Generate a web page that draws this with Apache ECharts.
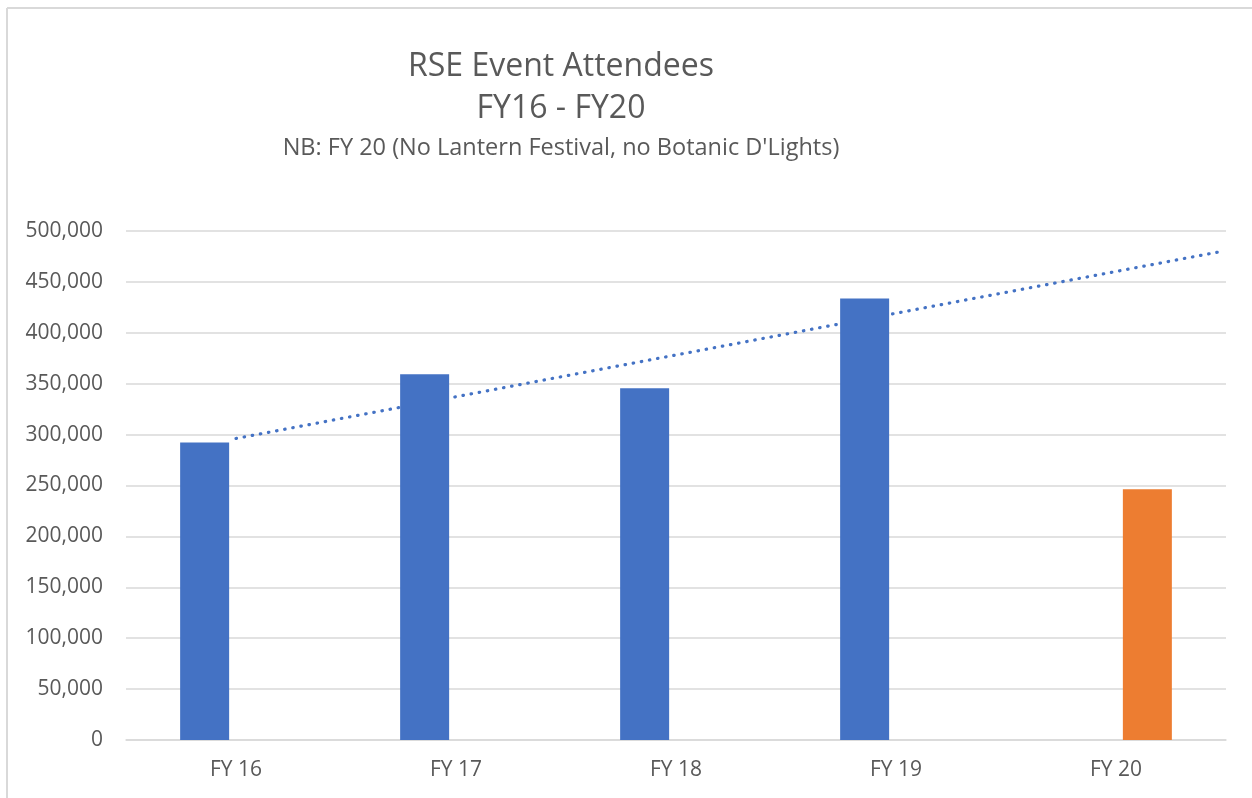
<!DOCTYPE html>
<html>
<head>
<meta charset="utf-8">
<script src="https://cdn.jsdelivr.net/npm/echarts@6/dist/echarts.min.js"></script>
<style>
    html, body { margin: 0; padding: 0; background: #fff; }
    #chart { width: 1252px; height: 798px; }
</style>
</head>
<body>
<div id="chart"></div>
<script>
    // Chart data
    const categories = ['FY 16', 'FY 17', 'FY 18', 'FY 19', 'FY 20'];
    const attendees = [292300, 359300, 345600, 433600, null];
    const attendeesFy20 = [null, null, null, null, 246400];

    const font = '"Open Sans", sans-serif';
    const textColor = '#595959';
    const gridColor = '#d9d9d9';

    // Linear trendline on the blue series (x = 1..n), extended to the plot edge
    const linearTrend = (values) => {
        const pts = values.map((v, i) => [i + 1, v]).filter(p => p[1] != null);
        const n = pts.length;
        const mx = pts.reduce((s, p) => s + p[0], 0) / n;
        const my = pts.reduce((s, p) => s + p[1], 0) / n;
        let num = 0, den = 0;
        pts.forEach(p => {
            num += (p[0] - mx) * (p[1] - my);
            den += (p[0] - mx) * (p[0] - mx);
        });
        const slope = num / den;
        return (x) => my + slope * (x - mx);
    };
    const trend = linearTrend(attendees);
    const trendData = [[1, trend(1)], [categories.length + 0.47, trend(categories.length + 0.47)]];

    const chart = echarts.init(document.getElementById('chart'));

    chart.setOption({
        animation: false,
        grid: { left: 126, right: 26, top: 231, bottom: 58, containLabel: false },
        graphic: [
            // Chart frame (left and top edges only visible)
            { type: 'line', shape: { x1: 7, y1: 8, x2: 1252, y2: 8 }, style: { stroke: gridColor, lineWidth: 2 } },
            { type: 'line', shape: { x1: 7, y1: 8, x2: 7, y2: 798 }, style: { stroke: gridColor, lineWidth: 2 } },
            // Titles
            { type: 'text', x: 561, y: 67, style: { text: 'RSE Event Attendees', font: '32px ' + font, fill: textColor, textAlign: 'center', textVerticalAlign: 'middle' } },
            { type: 'text', x: 561, y: 109, style: { text: 'FY16 - FY20', font: '32px ' + font, fill: textColor, textAlign: 'center', textVerticalAlign: 'middle' } },
            { type: 'text', x: 561, y: 148, style: { text: "NB: FY 20 (No Lantern Festival, no Botanic D'Lights)", font: '23.5px ' + font, fill: textColor, textAlign: 'center', textVerticalAlign: 'middle' } }
        ],
        xAxis: [
            {
                type: 'category',
                data: categories,
                axisLine: { lineStyle: { color: gridColor, width: 1.5 } },
                axisTick: { show: false },
                axisLabel: { color: textColor, fontFamily: font, fontSize: 21, margin: 20 }
            },
            {
                // hidden value axis used to place the trendline
                type: 'value',
                min: 0.5,
                max: categories.length + 0.5,
                show: false
            }
        ],
        yAxis: {
            type: 'value',
            min: 0,
            max: 500000,
            interval: 50000,
            axisLine: { show: false },
            axisTick: { show: false },
            splitLine: { lineStyle: { color: gridColor, width: 1.5 } },
            axisLabel: {
                color: textColor,
                fontFamily: font,
                fontSize: 21,
                margin: 23,
                formatter: (v) => v.toLocaleString('en-US')
            }
        },
        series: [
            {
                type: 'line',
                xAxisIndex: 1,
                data: trendData,
                showSymbol: false,
                silent: true,
                z: 1,
                lineStyle: { color: '#4472C4', width: 3.2, type: [0.5, 7.75], cap: 'round' }
            },
            {
                type: 'bar',
                data: attendees,
                barWidth: 49,
                barGap: '28%',
                z: 3,
                itemStyle: { color: '#4472C4' }
            },
            {
                type: 'bar',
                data: attendeesFy20,
                barWidth: 49,
                barGap: '28%',
                z: 3,
                itemStyle: { color: '#ED7D31' }
            }
        ]
    });
</script>
</body>
</html>
